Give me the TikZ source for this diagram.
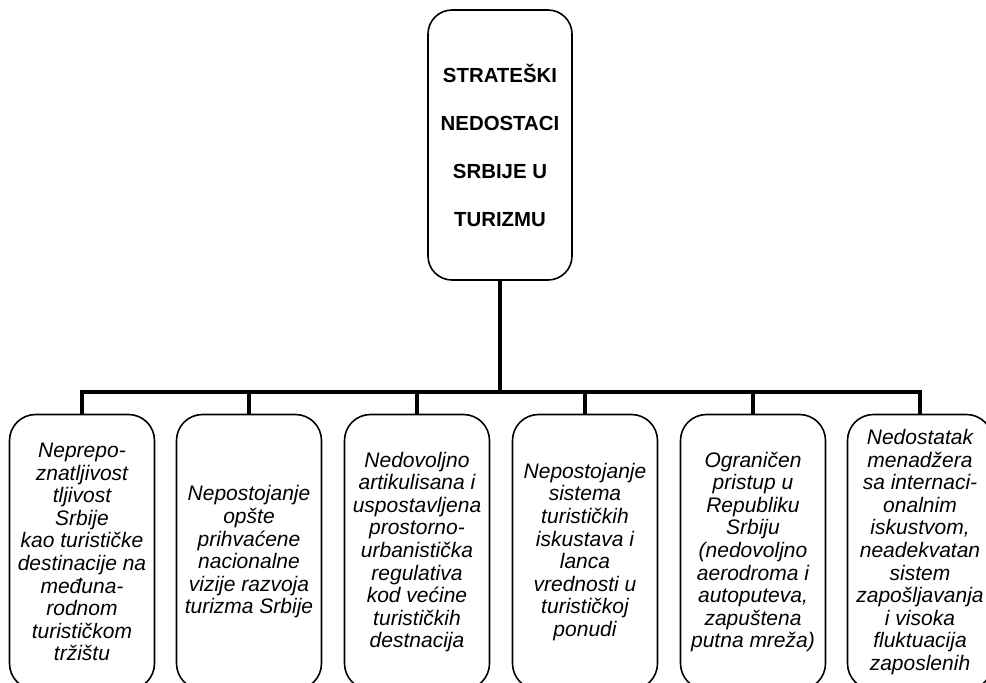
\documentclass[tikz,border=0pt]{standalone}
\usepackage{fontspec}
\setmainfont{Liberation Sans}
\usetikzlibrary{positioning}

\begin{document}
\begin{tikzpicture}[x=0.5pt, y=-0.5pt,
    topbox/.style={draw, line width=0.8pt, rounded corners=12pt, minimum width=72pt, minimum height=135pt, align=center, font=\fontsize{10.2}{24}\selectfont\bfseries},
    subbox/.style={draw, line width=0.8pt, rounded corners=13pt, minimum width=72.5pt, minimum height=137.5pt, align=center, inner sep=1pt, font=\fontsize{10.5}{11.3}\selectfont\itshape},
    conn/.style={line width=2.2pt}]
    \useasboundingbox (0,0) rectangle (986,682);
    \clip (0,0) rectangle (986,682);
    % glavni cvor
    \node[topbox] (top) at (500,145) {STRATEŠKI\\NEDOSTACI\\SRBIJE U\\TURIZMU};
    \coordinate (bus) at (500,392);
    % nedostaci
    \node[subbox] (n1) at (82,552) {Neprepo-\\znatljivost\\tljivost\\Srbije\\kao turističke\\destinacije na\\međuna-\\rodnom\\turističkom\\tržištu};
    \node[subbox] (n2) at (249,552) {Nepostojanje\\opšte\\prihvaćene\\nacionalne\\vizije razvoja\\turizma Srbije};
    \node[subbox] (n3) at (417,552) {Nedovoljno\\artikulisana i\\uspostavljena\\prostorno-\\urbanistička\\regulativa\\kod većine\\turističkih\\destnacija};
    \node[subbox] (n4) at (585,552) {Nepostojanje\\sistema\\turističkih\\iskustava i\\lanca\\vrednosti u\\turističkoj\\ponudi};
    \node[subbox] (n5) at (753,552) {Ograničen\\pristup u\\Republiku\\Srbiju\\(nedovoljno\\aerodroma i\\autoputeva,\\zapuštena\\putna mreža)};
    \node[subbox] (n6) at (920,552) {Nedostatak\\menadžera\\sa internaci-\\onalnim\\iskustvom,\\neadekvatan\\sistem\\zapošljavanja\\i visoka\\fluktuacija\\zaposlenih};
    % veze
    \draw[conn] (top.south) -- (bus);
    \draw[conn] (n1.north) |- (bus);
    \draw[conn] (n2.north) |- (bus);
    \draw[conn] (n3.north) |- (bus);
    \draw[conn] (n4.north) |- (bus);
    \draw[conn] (n5.north) |- (bus);
    \draw[conn] (n6.north) |- (bus);
\end{tikzpicture}
\end{document}
